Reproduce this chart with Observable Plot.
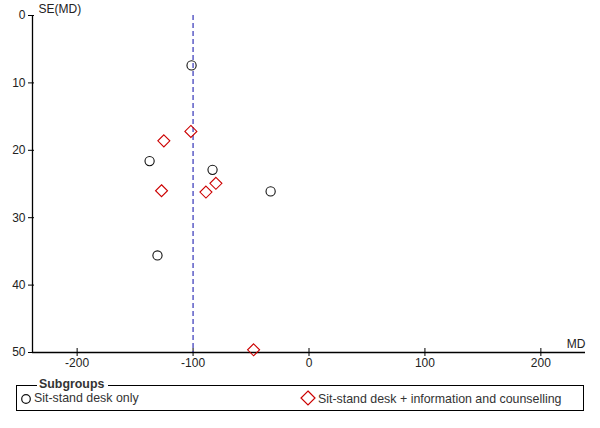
<!DOCTYPE html>
<html>
<head>
<meta charset="utf-8">
<script src="https://cdn.jsdelivr.net/npm/d3@7"></script>
<script src="https://cdn.jsdelivr.net/npm/@observablehq/plot@0.6"></script>
<style>
  html, body { margin: 0; padding: 0; background: #fff; }
  body { width: 600px; height: 428px; position: relative; font-family: "Liberation Sans", Arial, sans-serif; font-size: 12.4px; color: #000; overflow: hidden; }
  #chart { position: absolute; left: 0; top: 0; }
  #legend { position: absolute; left: 16px; top: 385px; width: 566px; height: 24px; border: 1px solid #000; }
  #legend .title { position: absolute; left: 20px; top: -9px; background: #fff; padding: 0 4px 0 2px; font-weight: bold; color: #333; }
  #legend .item { position: absolute; top: 5px; white-space: nowrap; color: #333; }
  #legend .item svg { vertical-align: -3px; margin-right: 2px; }
</style>
</head>
<body>
<div id="chart"></div>
<div id="legend">
  <span class="title" id="legendTitle"></span>
  <span class="item" id="item0" style="left:3px"></span>
  <span class="item" id="item1" style="left:283px;top:4px"></span>
</div>
<script>
// ---- data ----
const legendTitle = "Subgroups";
const subgroups = ["Sit-stand desk only", "Sit-stand desk + information and counselling"];
const deskOnlyMD = [-101.3, -137.5, -83.2, -33.1, -130.7];
const deskOnlySE = [7.4, 21.6, 22.9, 26.1, 35.6];
const deskInfoMD = [-101.9, -125.2, -127.2, -88.9, -80.3, -47.8];
const deskInfoSE = [17.2, 18.6, 26.0, 26.2, 24.9, 49.6];
const pooledMD = [-100];
const xTicks = [-200, -100, 0, 100, 200];
const yTicks = [0, 10, 20, 30, 40, 50];
const xLabel = "MD";
const yLabel = "SE(MD)";

const deskOnly = deskOnlyMD.map((md, i) => ({md, se: deskOnlySE[i], group: subgroups[0]}));
const deskInfo = deskInfoMD.map((md, i) => ({md, se: deskInfoSE[i], group: subgroups[1]}));

const xMin = -238.5, xMax = 238.5, yMax = 50;

const chart = Plot.plot({
  width: 600,
  height: 372,
  marginLeft: 32,
  marginRight: 15,
  marginTop: 15,
  marginBottom: 20,
  style: {fontFamily: '"Liberation Sans", Arial, sans-serif', fontSize: "12px", color: "#000", background: "#fff"},
  x: {domain: [xMin, xMax]},
  y: {domain: [0, yMax], reverse: true},
  marks: [
    Plot.axisY({ticks: yTicks, tickSize: 6, tickPadding: 3, dx: 2, label: null, tickFormat: d => String(d), fill: "#222"}),
    Plot.axisX({ticks: xTicks, tickSize: 8, tickPadding: 2, dy: -4, label: null, tickFormat: d => String(d), fill: "#222"}),
    Plot.ruleX([xMin], {stroke: "#000", strokeWidth: 1.3}),
    Plot.ruleY([yMax], {stroke: "#000", strokeWidth: 1.3}),
    Plot.ruleX(pooledMD, {y1: 0, y2: yMax, stroke: "#3333b8", strokeWidth: 1.2, strokeDasharray: "5,3"}),
    Plot.dot(deskOnly, {x: "md", y: "se", symbol: "circle", r: 4.6, stroke: "#111", strokeWidth: 1.1, fill: "none"}),
    Plot.dot(deskInfo, {x: "md", y: "se", symbol: "diamond2", r: 5.4, stroke: "#cc0000", strokeWidth: 1.1, fill: "none"}),
    Plot.text([yLabel], {frameAnchor: "top-left", dx: 6, dy: -3, textAnchor: "start", lineAnchor: "bottom", fill: "#222"}),
    Plot.text([xLabel], {frameAnchor: "bottom-right", dx: 0, dy: -5, textAnchor: "end", lineAnchor: "bottom", fill: "#222"})
  ]
});
document.getElementById("chart").appendChild(chart);

// legend
document.getElementById("legendTitle").textContent = legendTitle;
const circleIcon = '<svg width="12" height="12" viewBox="-6 -6 12 12"><circle r="4.3" fill="none" stroke="#111" stroke-width="1.2"/></svg>';
const diamondIcon = '<svg width="16" height="16" viewBox="-8 -8 16 16"><path d="M0,-7L7,0L0,7L-7,0Z" fill="none" stroke="#cc0000" stroke-width="1.2"/></svg>';
document.getElementById("item0").innerHTML = circleIcon;
document.getElementById("item0").appendChild(document.createTextNode(subgroups[0]));
document.getElementById("item1").innerHTML = diamondIcon;
document.getElementById("item1").appendChild(document.createTextNode(subgroups[1]));
</script>
</body>
</html>
